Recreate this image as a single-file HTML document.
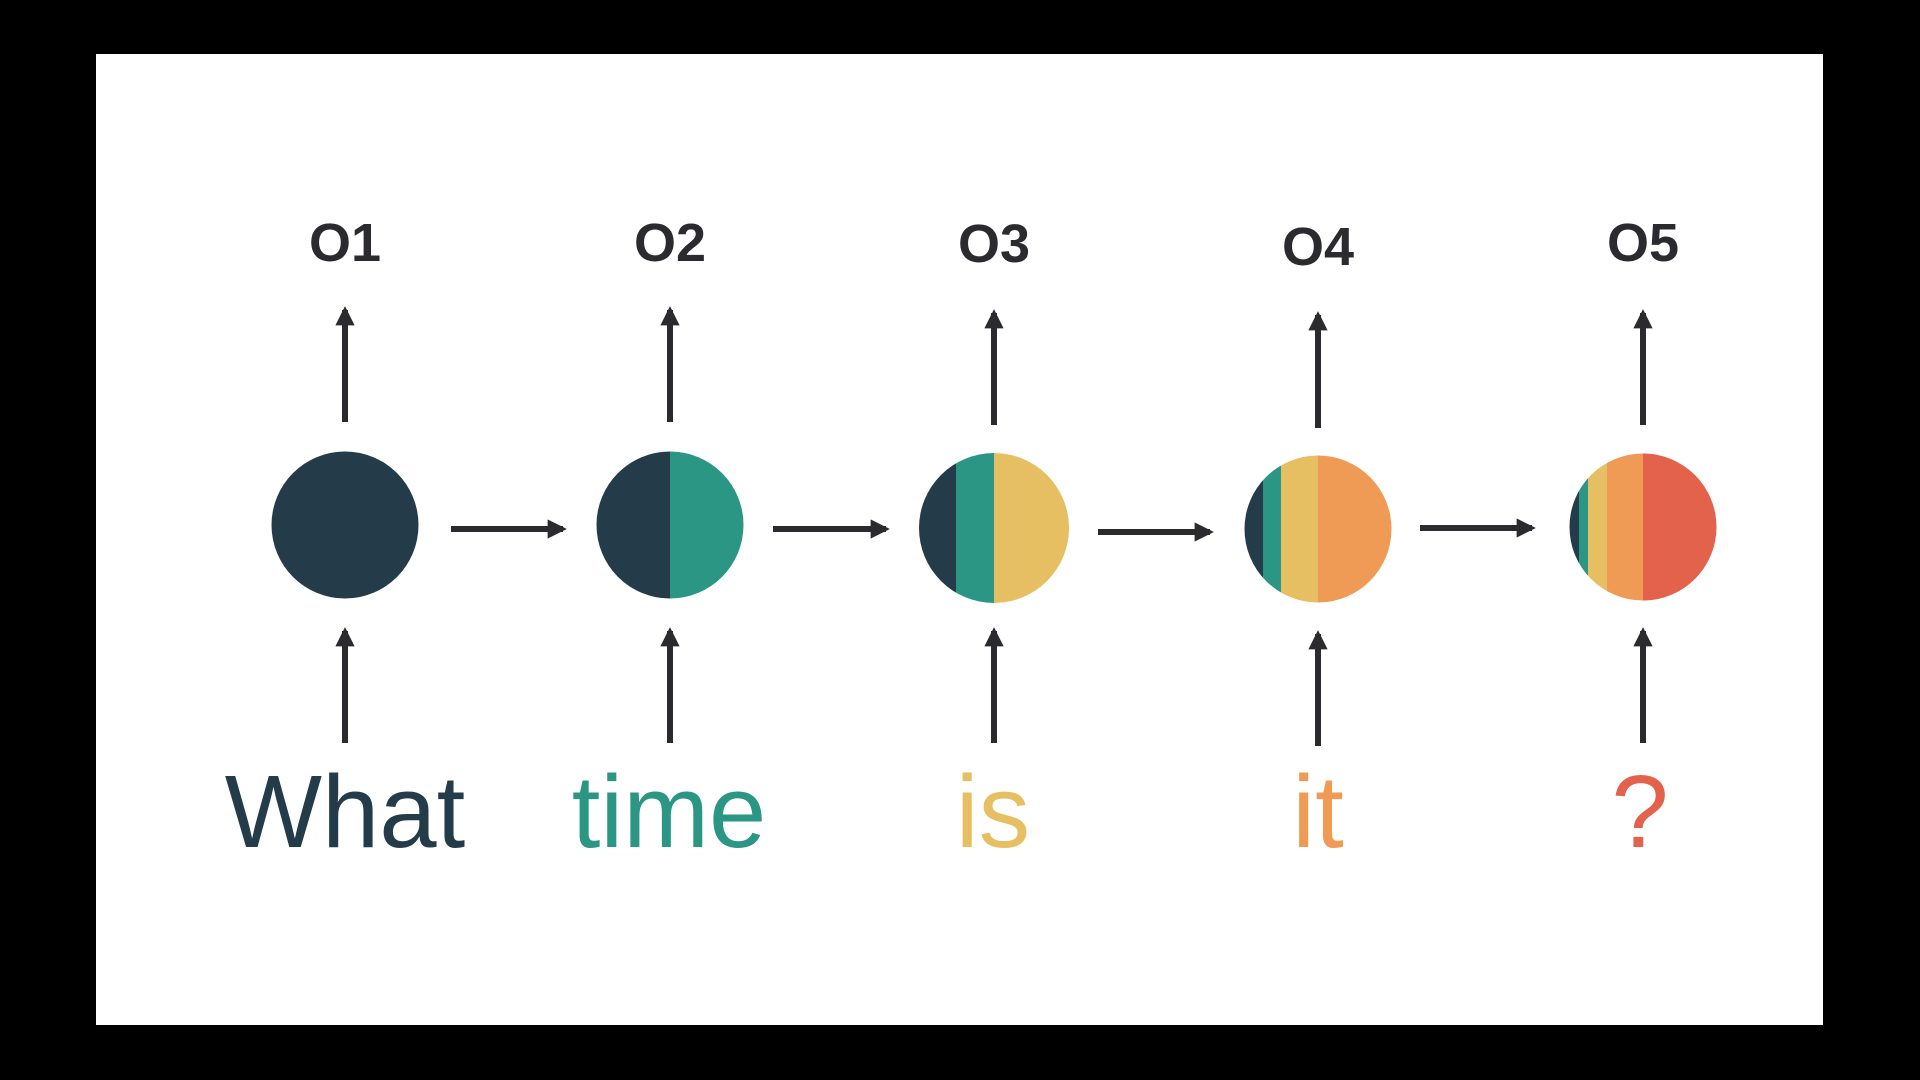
<!DOCTYPE html>
<html><head><meta charset="utf-8"><style>
html,body{margin:0;padding:0;background:#000;}
svg{display:block}
text{font-family:"Liberation Sans",sans-serif}
</style></head><body>
<svg width="1920" height="1080" viewBox="0 0 1920 1080">
<defs>
<marker id="ah" viewBox="0 0 10 10" refX="8" refY="5" markerWidth="3.2" markerHeight="3.2" orient="auto" markerUnits="strokeWidth">
<path d="M0,0 L10,5 L0,10 Z" fill="#2b2b2f"/></marker>
<clipPath id="c1"><circle cx="345" cy="525" r="73.5"/></clipPath>
<clipPath id="c2"><circle cx="670" cy="525" r="73.5"/></clipPath>
<clipPath id="c3"><circle cx="994" cy="528" r="75"/></clipPath>
<clipPath id="c4"><circle cx="1318" cy="529" r="73.5"/></clipPath>
<clipPath id="c5"><circle cx="1643" cy="527" r="73.5"/></clipPath>
</defs>
<rect x="96" y="54" width="1727" height="971" fill="#fff"/>
<!-- circles -->
<circle cx="345" cy="525" r="73.5" fill="#243b4a"/>
<g clip-path="url(#c2)"><rect x="590" y="440" width="80" height="170" fill="#243b4a"/><rect x="670" y="440" width="80" height="170" fill="#2a9683"/></g>
<g clip-path="url(#c3)"><rect x="910" y="440" width="46" height="180" fill="#243b4a"/><rect x="956" y="440" width="38" height="180" fill="#2a9683"/><rect x="994" y="440" width="80" height="180" fill="#e5bf62"/></g>
<g clip-path="url(#c4)"><rect x="1240" y="440" width="23" height="180" fill="#243b4a"/><rect x="1263" y="440" width="18" height="180" fill="#2a9683"/><rect x="1281" y="440" width="37" height="180" fill="#e5bf62"/><rect x="1318" y="440" width="80" height="180" fill="#ef9a55"/></g>
<g clip-path="url(#c5)"><rect x="1565" y="440" width="14" height="180" fill="#243b4a"/><rect x="1579" y="440" width="9" height="180" fill="#2a9683"/><rect x="1588" y="440" width="19" height="180" fill="#e5bf62"/><rect x="1607" y="440" width="36" height="180" fill="#ef9a55"/><rect x="1643" y="440" width="80" height="180" fill="#e3624b"/></g>
<!-- arrows -->
<g stroke="#2b2b2f" stroke-width="6" marker-end="url(#ah)" fill="none">
<line x1="345" y1="422" x2="345" y2="310"/>
<line x1="670" y1="422" x2="670" y2="310"/>
<line x1="994" y1="425" x2="994" y2="313"/>
<line x1="1318" y1="428" x2="1318" y2="315"/>
<line x1="1643" y1="425" x2="1643" y2="313"/>
<line x1="345" y1="743" x2="345" y2="631"/>
<line x1="670" y1="743" x2="670" y2="631"/>
<line x1="994" y1="743" x2="994" y2="631"/>
<line x1="1318" y1="746" x2="1318" y2="634"/>
<line x1="1643" y1="743" x2="1643" y2="631"/>
<line x1="451" y1="529" x2="563" y2="529"/>
<line x1="773" y1="529" x2="886" y2="529"/>
<line x1="1098" y1="532" x2="1210" y2="532"/>
<line x1="1420" y1="528" x2="1532" y2="528"/>
</g>
<!-- labels -->
<g font-weight="bold" font-size="54" fill="#2b2b2f" text-anchor="middle">
<text x="345" y="261">O1</text>
<text x="670" y="261">O2</text>
<text x="994" y="262">O3</text>
<text x="1318" y="265">O4</text>
<text x="1643" y="261">O5</text>
</g>
<g font-size="103" text-anchor="middle">
<text x="345" y="847" fill="#243b4a">What</text>
<text x="669" y="847" fill="#2a9683">time</text>
<text x="993" y="847" fill="#e5bf62">is</text>
<text x="1318" y="847" fill="#ef9a55">it</text>
<text x="1640" y="847" fill="#e3624b">?</text>
</g>
</svg>
</body></html>
